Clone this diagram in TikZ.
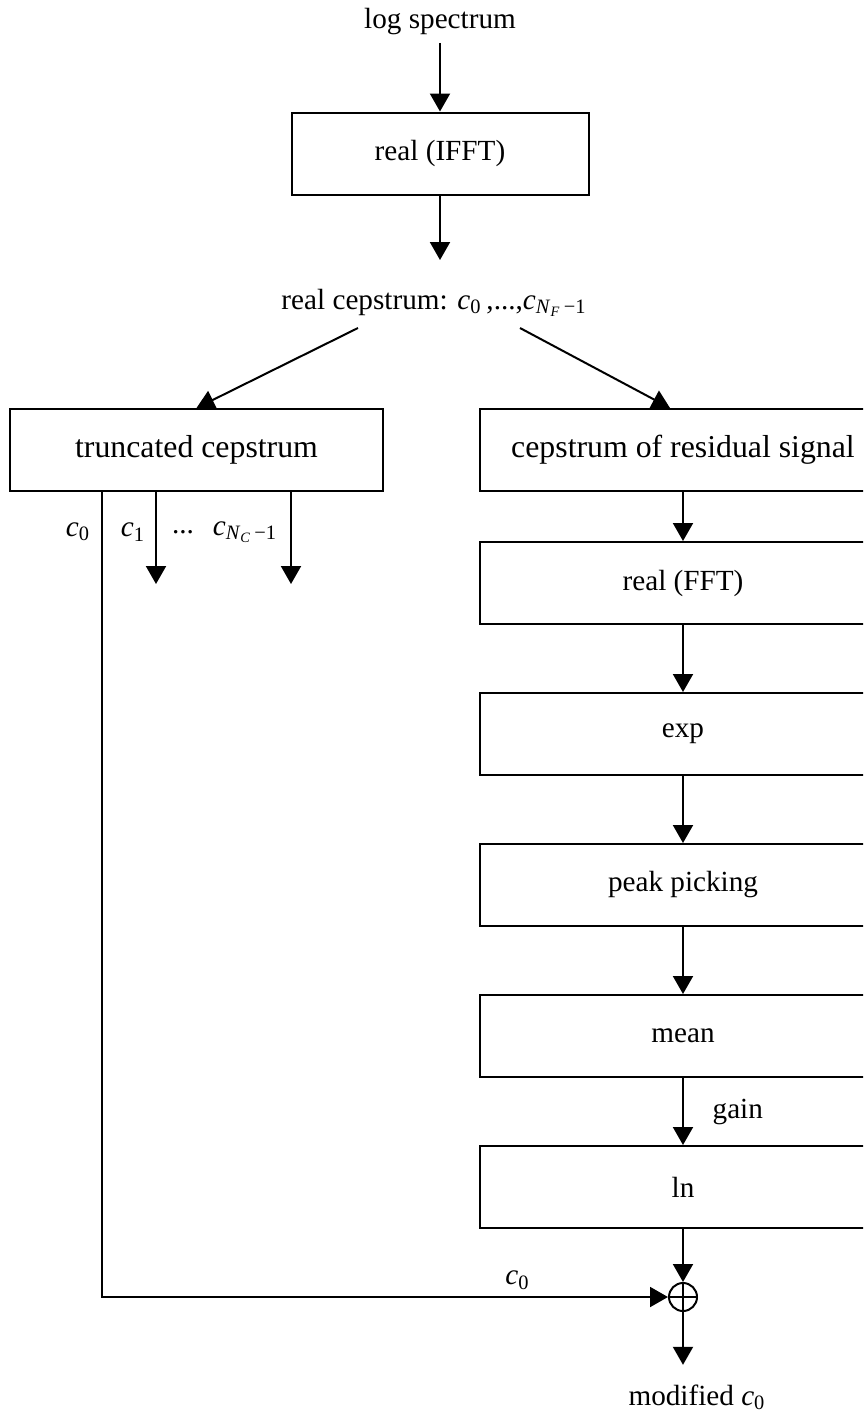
\documentclass[tikz,border=0pt]{standalone}
\usepackage{fontspec}
\setmainfont{Liberation Serif}
\usetikzlibrary{arrows.meta, positioning}
\tikzset{block/.style={draw, rectangle, minimum height=41pt, minimum width=203pt, inner sep=0pt, font=\fontsize{14.6}{17}\selectfont}}
\tikzset{bigblock/.style={block, font=\fontsize{15.9}{19}\selectfont}}
\tikzset{lbl/.style={font=\fontsize{14.6}{17}\selectfont}}
\newcommand{\csub}[1]{\textit{c}\textsubscript{#1}}

\begin{document}
\begin{tikzpicture}[>={Triangle[length=9pt,width=10pt]}, line width=1pt, x=0.5pt, y=-0.5pt, node distance=33.5pt]
    \useasboundingbox (0,0) rectangle (863,1414);
    \clip (0,0) rectangle (863,1414);
    \node [lbl] (logspec) at (440,22) {log spectrum};
    \node [block, minimum width=148.5pt] (ifft) at (440,153.5) {real (IFFT)};
    \node [lbl] (realcep) at (434,303) {real cepstrum: \csub{0}\,,...,\csub{\textit{N}\textsubscript{\textit{F}}\,−1}};
    \coordinate (cepin) at (440,260);
    \coordinate (splitl) at (358,328);
    \coordinate (splitr) at (520,328);
    \node [bigblock, minimum width=186.5pt] (trunc) at (196.5,450) {truncated cepstrum};
    \node [bigblock] (resid) at (683,450) {cepstrum of residual signal};
    \node [block, below=24.5pt of resid] (fft) {real (FFT)};
    \node [block, below=of fft] (exp) {exp};
    \node [block, below=of exp] (peak) {peak picking};
    \node [block, below=of peak] (mean) {mean};
    \node [block, below=of mean] (ln) {ln};
    \node [draw, circle, minimum size=14pt, inner sep=0pt] (sum) at (683,1297) {};
    \node [lbl] (modc) at (697,1397) {modified \csub{0}};
    % labels under the truncated cepstrum
    \node [lbl] (lc0) at (78,532) {\csub{0}};
    \node [lbl] (lc1) at (133,532) {\csub{1}};
    \node [lbl] (ldots) at (183,532) {...};
    \node [lbl] (lcn) at (245,532) {\csub{\textit{N}\textsubscript{\textit{C}}\,−1}};

    \draw [->] (logspec) -- (ifft);
    \draw [->] (ifft) -- (cepin);
    \draw [->] (splitl) -- (trunc.north);
    \draw [->] (splitr) -- ([xshift=-6.5pt]resid.north);
    \draw [->] (resid) -- (fft);
    \draw [->] (fft) -- (exp);
    \draw [->] (exp) -- (peak);
    \draw [->] (peak) -- (mean);
    \draw [->] (mean) -- node [lbl, right=11pt] {gain} (ln);
    \draw [->] (ln) -- (sum);
    \draw [->] (sum) -- ([yshift=6pt]sum |- modc.north);
    \draw (sum.north) -- (sum.south) (sum.west) -- (sum.east);
    \draw [->] ([xshift=46.5pt]trunc.south west) |- node [lbl, pos=0.867, above] {\csub{0}} (sum);
    \draw [->] ([xshift=73.5pt]trunc.south west) -- ++(0,92);
    \draw [->] ([xshift=141pt]trunc.south west) -- ++(0,92);
\end{tikzpicture}
\end{document}
